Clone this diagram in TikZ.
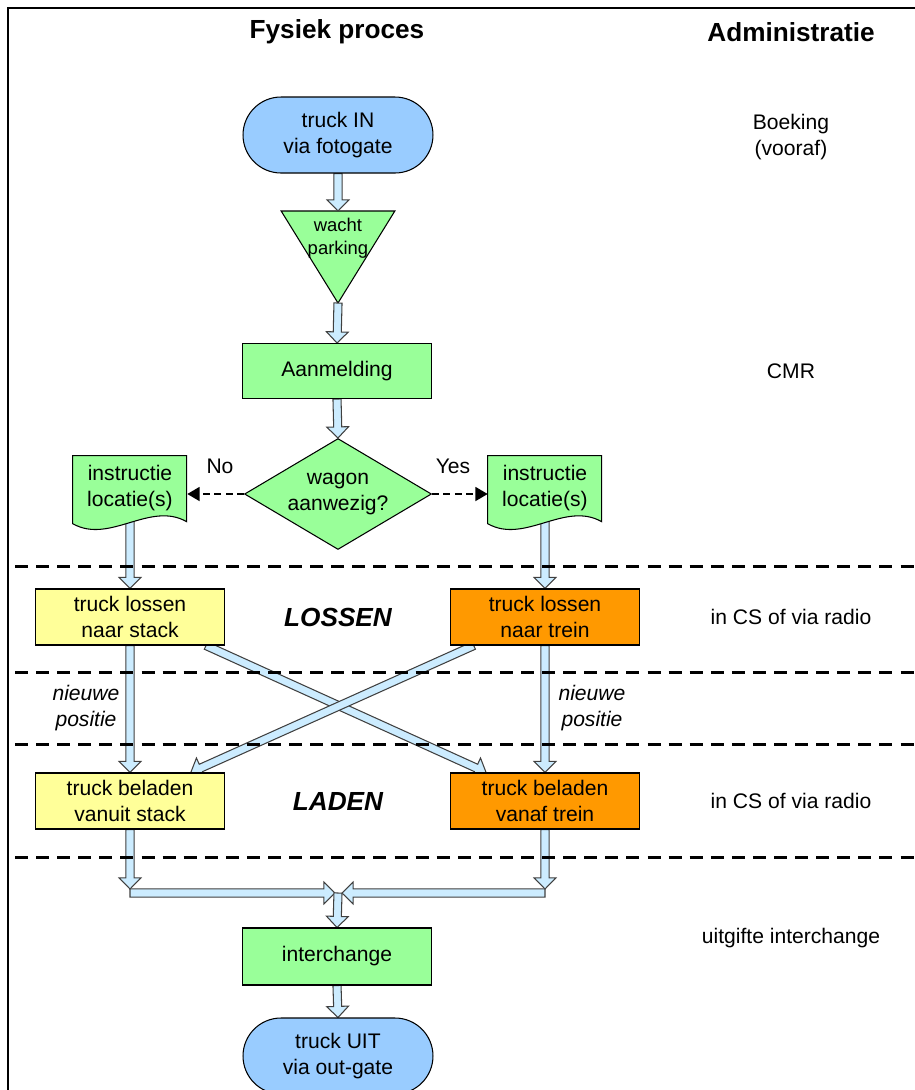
\documentclass[tikz,border=0pt]{standalone}
\usepackage{fontspec}
\setmainfont{Liberation Sans}
\usetikzlibrary{shapes.geometric,calc,arrows.meta,backgrounds}
\definecolor{termblue}{RGB}{153,204,255}
\definecolor{stepgreen}{RGB}{153,255,153}
\definecolor{stackyel}{RGB}{255,255,153}
\definecolor{treinor}{RGB}{255,153,0}
\definecolor{arrblue}{RGB}{204,236,255}
\definecolor{arrline}{RGB}{64,64,64}

\tikzset{
  txt/.style={font=\fontsize{12}{14.4}\selectfont,align=center},
  note/.style={font=\fontsize{12}{14.4}\selectfont\itshape,align=center},
  header/.style={font=\fontsize{14.9}{17}\selectfont\bfseries},
  phase/.style={font=\fontsize{14.9}{17}\selectfont\bfseries\itshape},
  term/.style={txt,draw,line width=0.6pt,fill=termblue,rounded corners=0.76cm,minimum width=3.8cm,minimum height=1.52cm},
  stepbox/.style={txt,draw,line width=0.6pt,fill=stepgreen,minimum width=3.78cm,minimum height=1.1cm},
  stackbox/.style={txt,draw,line width=0.6pt,fill=stackyel,minimum width=3.78cm,minimum height=1.12cm},
  treinbox/.style={txt,draw,line width=0.6pt,fill=treinor,minimum width=3.78cm,minimum height=1.12cm},
  docbox/.style={txt,minimum width=2.28cm,minimum height=1.28cm},
  docshape/.style={draw,line width=0.6pt,fill=stepgreen},
  divider/.style={line width=1.7pt,dash pattern=on 7.4pt off 4.6pt},
  choice/.style={line width=0.9pt,dash pattern=on 4pt off 2.5pt,-{Triangle[length=7pt,width=8pt]}},
  blockarrow/.style={draw=arrline,fill=arrblue,line width=0.6pt,line join=miter}
}

% hollow block arrow from #1 to #2
\newcommand{\flowarrow}[2]{%
  \coordinate (fa-c) at ($(#2)!6.3pt!(#1)$);
  \path[blockarrow] ($(#1)!2.3pt!90:(#2)$) -- ($(fa-c)!2.3pt!90:(#2)$)
    -- ($(fa-c)!6.2pt!90:(#2)$) -- (#2) -- ($(fa-c)!6.2pt!-90:(#2)$)
    -- ($(fa-c)!2.3pt!-90:(#2)$) -- ($(#1)!2.3pt!-90:(#2)$) -- cycle;}

\begin{document}
\begin{tikzpicture}[x=0.02cm,y=-0.02cm]
        \useasboundingbox (0,0) rectangle (915,1090);
        \draw[line width=1pt] (8,1090) -- (8,8) -- (915,8);

        \node[header] (hdrproc) at (337,32) {Fysiek proces};
        \node[header] (hdradmin) at (791,32) {Administratie};

        % physical process
        \node[term] (in) at (338,135) {truck IN\\via fotogate};
        \node[anchor=north,minimum width=2.26cm,inner sep=4pt,align=center,font=\fontsize{10.5}{12.8}\selectfont] (wait) at (338,211) {wacht\\parking};
        \coordinate (waitapex) at ($(wait.north)+(0,92)$);
        \node[stepbox] (reg) at (337,371) {Aanmelding};
        \node[diamond,draw,line width=0.6pt,fill=stepgreen,minimum width=3.74cm,minimum height=2.22cm,inner sep=0pt,aspect=1.7,txt] (wagon) at (338,494) {wagon\\aanwezig?};
        \node[docbox] (instrL) at (130,488) {instructie\\locatie(s)};
        \node[docbox] (instrR) at (545,488) {instructie\\locatie(s)};
        \node[txt] (no) at (220,466) {No};
        \node[txt] (yes) at (453,466) {Yes};

        \node[stackbox] (unstack) at (130,617) {truck lossen\\naar stack};
        \node[treinbox] (untrain) at (545,617) {truck lossen\\naar trein};
        \node[phase] (lossen) at (338,617) {LOSSEN};
        \node[note] (posL) at (86,708) {nieuwe\\positie};
        \node[note] (posR) at (592,708) {nieuwe\\positie};
        \node[stackbox] (loadstack) at (130,801) {truck beladen\\vanuit stack};
        \node[treinbox] (loadtrain) at (545,801) {truck beladen\\vanaf trein};
        \node[phase] (laden) at (338,801) {LADEN};

        \node[stepbox,minimum height=1.14cm] (xchg) at (337,956.5) {interchange};
        \node[term] (out) at (338,1056) {truck UIT\\via out-gate};

        % administration
        \node[txt] (book) at (791,137) {Boeking\\(vooraf)};
        \node[txt] (cmr) at (791,371) {CMR};
        \node[txt] (radioA) at (791,617) {in CS of via radio};
        \node[txt] (radioB) at (791,801) {in CS of via radio};
        \node[txt] (issue) at (791,938) {uitgifte interchange};

        \draw[choice] (wagon.west) -- (instrL.east |- wagon.west);
        \draw[choice] (wagon.east) -- (instrR.west |- wagon.east);

        \coordinate (crossA) at ($(unstack.south)!0.8!(unstack.south east)$);
        \coordinate (crossB) at ($(loadtrain.north)!0.62!(loadtrain.north west)$);
        \coordinate (crossC) at ($(untrain.south)!0.75!(untrain.south west)$);
        \coordinate (crossD) at ($(loadstack.north)!0.64!(loadstack.north east)$);
        \coordinate (mergeL) at (130,893);
        \coordinate (mergeR) at (545,893);
        \coordinate (merge) at (338,893);
        \coordinate (mergeLin) at (335,893);
        \coordinate (mergeRin) at (342,893);
        \coordinate (mergeLtop) at (130,889);
        \coordinate (mergeRtop) at (545,889);

        \begin{scope}[on background layer]
            \draw[docshape] (wait.north west) -- (wait.north east) -- (waitapex) -- cycle;
            \flowarrow{in.south}{wait.north}
            \flowarrow{waitapex}{reg.north}
            \flowarrow{reg.south}{wagon.north}
            \flowarrow{instrL.south}{unstack.north}
            \flowarrow{instrR.south}{untrain.north}
            \flowarrow{unstack.south}{loadstack.north}
            \flowarrow{untrain.south}{loadtrain.north}
            \flowarrow{crossA}{crossB}
            \flowarrow{crossC}{crossD}
            \flowarrow{loadstack.south}{mergeLtop}
            \flowarrow{loadtrain.south}{mergeRtop}
            \flowarrow{mergeL}{mergeLin}
            \flowarrow{mergeR}{mergeRin}
            \flowarrow{merge}{xchg.north}
            \flowarrow{xchg.south}{out.north}
            \foreach \d in {instrL,instrR}
                \draw[docshape,shift={(\d.north west)}] (0,0) -- (114,0) -- (114,66) .. controls (77,45) and (37,89) .. (0,68) -- cycle;
        \end{scope}

        \foreach \y in {566,672,744,857}
            \draw[divider] (15,\y) -- (915,\y);
    \end{tikzpicture}
\end{document}
